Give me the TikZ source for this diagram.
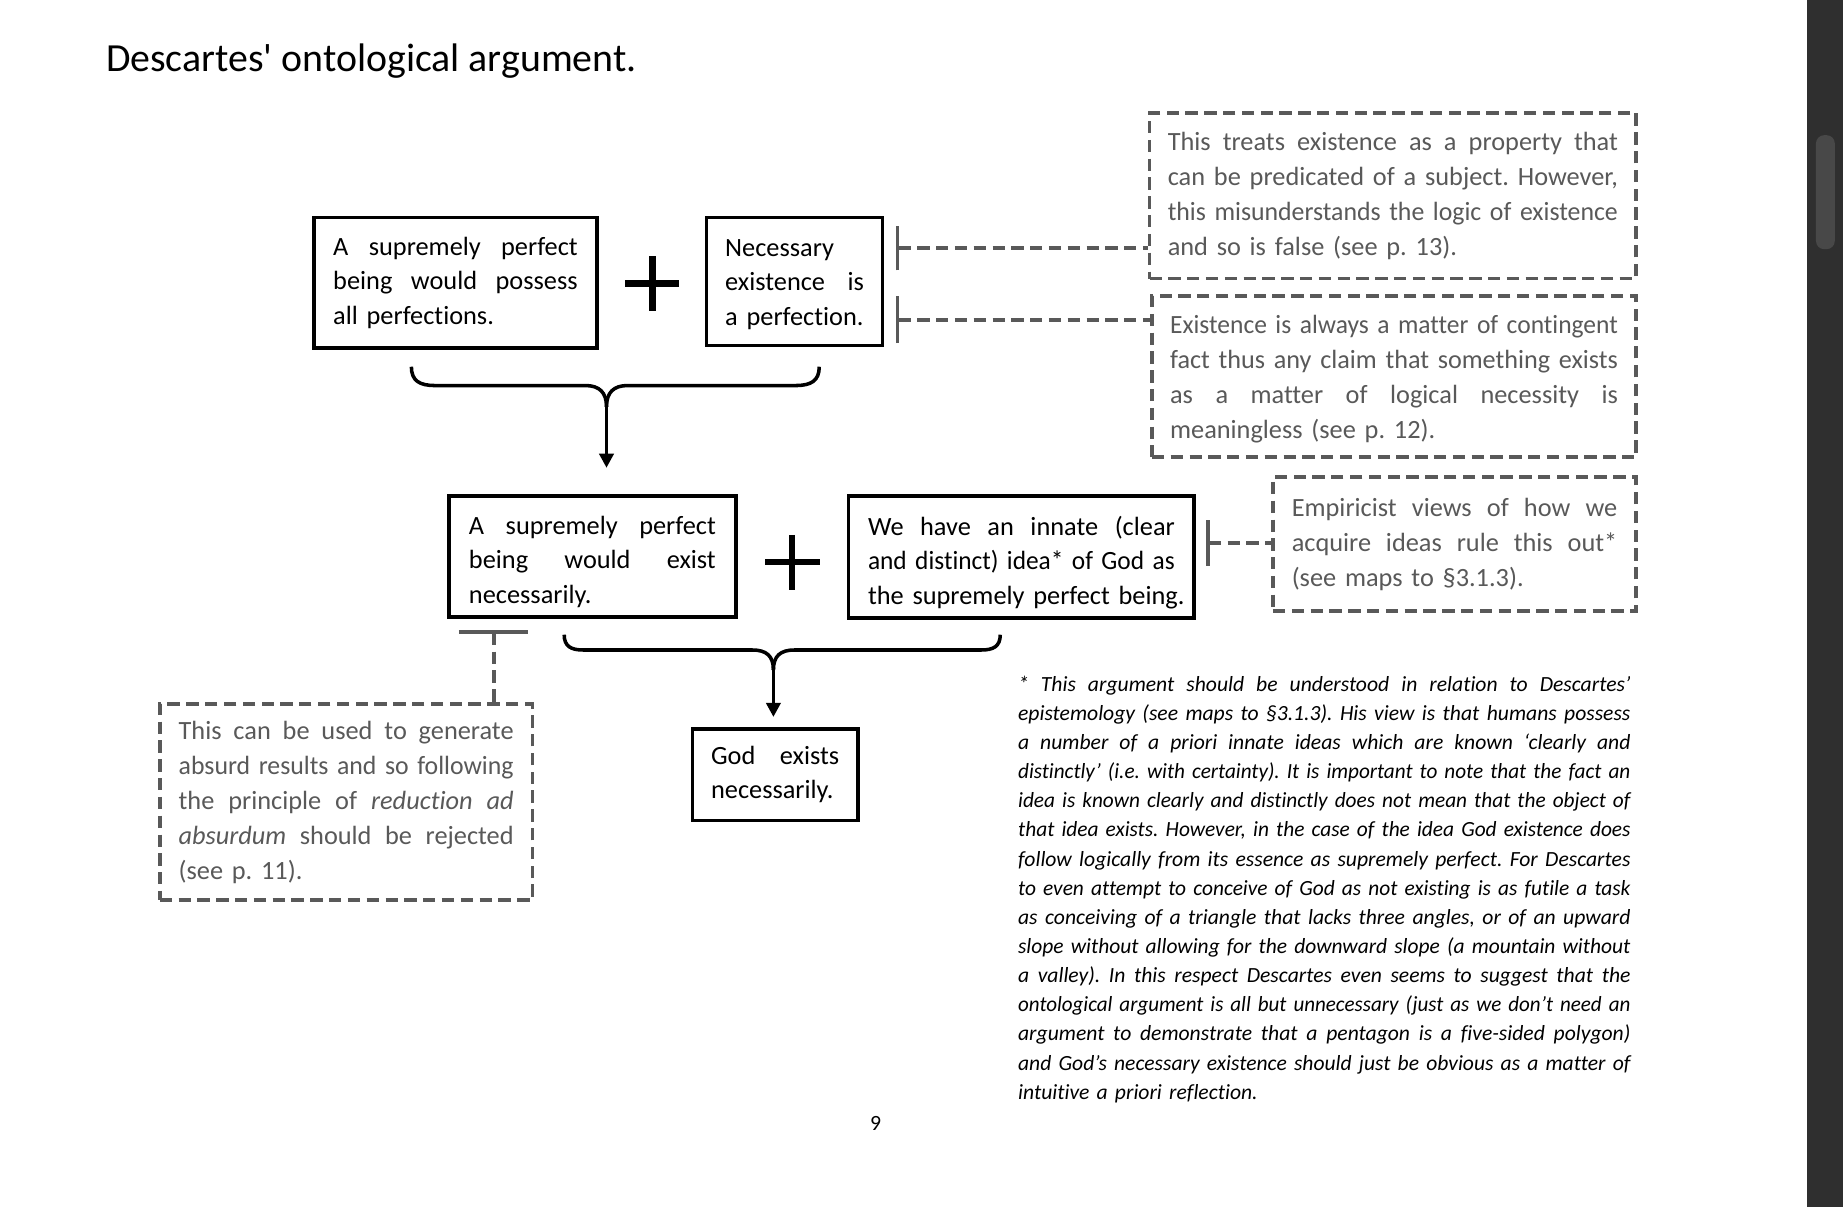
\documentclass[tikz,border=0pt]{standalone}
\usepackage{fontspec}
\usepackage{graphicx}
\setmainfont{Carlito}[Ligatures={TeXOff,CommonOff},WordSpace=0.8]
\newfontfamily\titlefont{Carlito}[Ligatures={TeXOff,CommonOff}]
\usetikzlibrary{arrows.meta}
\definecolor{cgray}{HTML}{595959}
\definecolor{sbar}{HTML}{2F2F2F}
\definecolor{sthumb}{HTML}{484848}
\newdimen\jlw
\def\jlsp{ \hskip0pt plus1fil\relax}
\def\jlx#1 #2\relax{#1\ifx\relax#2\relax\else\jlsp\jlx#2\relax\fi}
\newcommand\jl[1]{\setbox0\hbox{#1}%
  \ifdim\wd0>\jlw
    \hbox to\jlw{\scalebox{\fpeval{(\the\jlw)/(\the\wd0)}}[1]{\box0}\hss}%
  \else
    \hbox to\jlw{\jlx#1 \relax}%
  \fi\par}
\newcommand\lastln[1]{\hbox{#1}\par}
\newcommand\tdn[1]{\par\kern-#1\relax}
\frenchspacing
\begin{document}
\begin{tikzpicture}[x=1pt,y=-1pt,
  tw/.style={text width=#1, execute at begin node={\jlw=#1\relax}},
  solidbox/.style={draw=black, line width=3pt, inner sep=0pt, text=black, font=\fontsize{22.4}{29.5}\selectfont},
  dashbox/.style={draw=cgray, line width=3.2pt, dash pattern=on 10.5pt off 5.5pt, inner sep=0pt, text=cgray, font=\fontsize{22.4}{29.8}\selectfont},
  conn/.style={draw=cgray, line width=3.2pt, dash pattern=on 10.5pt off 5.5pt},
  flow/.style={draw=black, line width=3pt},
  plussign/.style={draw=black, line width=5.5pt},
  note/.style={inner sep=0pt, text=black, font=\fontsize{18.4}{24.8}\selectfont\itshape},
]
\useasboundingbox (0,0) rectangle (1568,1027);
\fill[white] (0,0) rectangle (1568,1027);
% scrollbar
\fill[sbar] (1537,0) rectangle (1568,1027);
\fill[sthumb, rounded corners=7pt] (1545,115) rectangle (1561,212);

% title
\node[anchor=base west, inner sep=0pt, font=\titlefont\fontsize{33.9}{40}\selectfont] (title) at (90,61) {Descartes' ontological argument.};

% top row
\node[solidbox, minimum width=241pt, minimum height=111pt, tw=208pt] (b1) at (387.5,240.5)
  {\jl{A supremely perfect}\jl{being would possess}\lastln{all perfections.}};
\node[solidbox, minimum width=150pt, minimum height=109pt, tw=118pt] (b2) at (676,239.5)
  {\lastln{Necessary}\jl{existence is}\lastln{a perfection.}\tdn{5pt}};
\draw[plussign] (532,241) -- (578,241) (555,218) -- (555,265);

\node[dashbox, minimum width=414pt, minimum height=141pt, tw=383pt] (d1) at (1185,166.5)
  {\jl{This treats existence as a property that}\jl{can be predicated of a subject. However,}\jl{this misunderstands the logic of existence}\lastln{and so is false (see p. 13).}};
\node[dashbox, minimum width=412pt, minimum height=137pt, tw=381pt] (d2) at (1186,320.5)
  {\jl{Existence is always a matter of contingent}\jl{fact thus any claim that something exists}\jl{as a matter of logical necessity is}\lastln{meaningless (see p. 12).}\tdn{4pt}};

\coordinate (t1) at (762,211);
\coordinate (t2) at (762,272);
\draw[conn, {Bar[width=38pt]}-] (t1) -- (t1 -| d1.west);
\draw[conn, {Bar[width=40pt]}-] (t2) -- (t2 -| d2.west);

% brace 1
\draw[flow] (350,312) .. controls (350,324) and (357,328) .. (370,328) -- (498,328) .. controls (510,328) and (516,334) .. (516,346);
\draw[flow] (697,312) .. controls (697,324) and (690,328) .. (677,328) -- (534,328) .. controls (522,328) and (516,334) .. (516,346);
\coordinate (c1) at (516,344);
\coordinate (a1) at (516,398);
\draw[flow, -{Triangle[length=12pt,width=12pt]}] (c1) -- (a1);

% middle row
\node[solidbox, minimum width=244pt, minimum height=103pt, tw=210pt] (b3) at (504,473.5)
  {\jl{A supremely perfect}\jl{being would exist}\lastln{necessarily.}\tdn{9pt}};
\draw[plussign] (651,478) -- (698,478) (674,455) -- (674,502);
\node[solidbox, minimum width=294pt, minimum height=104pt, tw=261pt] (b4) at (869,474)
  {\jl{We have an innate (clear}\jl{and distinct) idea* of God as}\lastln{the supremely perfect being.}\tdn{9pt}};
\node[dashbox, minimum width=309pt, minimum height=114pt, tw=277pt] (d3) at (1237.5,463)
  {\jl{Empiricist views of how we}\jl{acquire ideas rule this out*}\lastln{(see maps to §3.1.3).}};
\coordinate (t3) at (1026,462);
\draw[conn, {Bar[width=39pt]}-] (t3) -- (t3 -| d3.west);

% lower left objection
\node[dashbox, minimum width=317pt, minimum height=167pt, tw=285pt] (d4) at (294.5,682.5)
  {\jl{This can be used to generate}\jl{absurd results and so following}\jl{the principle of \textit{reduction} \textit{ad}}\jl{\textit{absurdum} should be rejected}\lastln{(see p. 11).}};
\coordinate (t4) at (420,536);
\draw[conn, {Bar[width=59pt]}-] (t4) -- (t4 |- d4.north);

% brace 2
\draw[flow] (480,540) .. controls (480,550) and (486,553) .. (496,553) -- (640,553) .. controls (652,553) and (658,558) .. (658,570);
\draw[flow] (851,540) .. controls (851,550) and (845,553) .. (835,553) -- (676,553) .. controls (664,553) and (658,558) .. (658,570);
\coordinate (c2) at (658,568);
\coordinate (a2) at (658,610);
\draw[flow, -{Triangle[length=12pt,width=12pt]}] (c2) -- (a2);

\node[solidbox, minimum width=141pt, minimum height=78pt, tw=109pt] (b5) at (659.5,659)
  {\jl{God exists}\lastln{necessarily.}};

% footnote
\node[note, anchor=base west, tw=521pt] (fn) at (866,588)
  {\jl{* This argument should be understood in relation to Descartes’}%
   \jl{epistemology (see maps to §3.1.3). His view is that humans possess}%
   \jl{a number of a priori innate ideas which are known ‘clearly and}%
   \jl{distinctly’ (i.e. with certainty). It is important to note that the fact an}%
   \jl{idea is known clearly and distinctly does not mean that the object of}%
   \jl{that idea exists. However, in the case of the idea God existence does}%
   \jl{follow logically from its essence as supremely perfect. For Descartes}%
   \jl{to even attempt to conceive of God as not existing is as futile a task}%
   \jl{as conceiving of a triangle that lacks three angles, or of an upward}%
   \jl{slope without allowing for the downward slope (a mountain without}%
   \jl{a valley). In this respect Descartes even seems to suggest that the}%
   \jl{ontological argument is all but unnecessary (just as we don’t need an}%
   \jl{argument to demonstrate that a pentagon is a five-sided polygon)}%
   \jl{and God’s necessary existence should just be obvious as a matter of}%
   \lastln{intuitive a priori reflection.}};

\node[anchor=base, inner sep=0pt, font=\fontsize{18.5}{22}\selectfont] (pg) at (745,962) {9};
\end{tikzpicture}
\end{document}
